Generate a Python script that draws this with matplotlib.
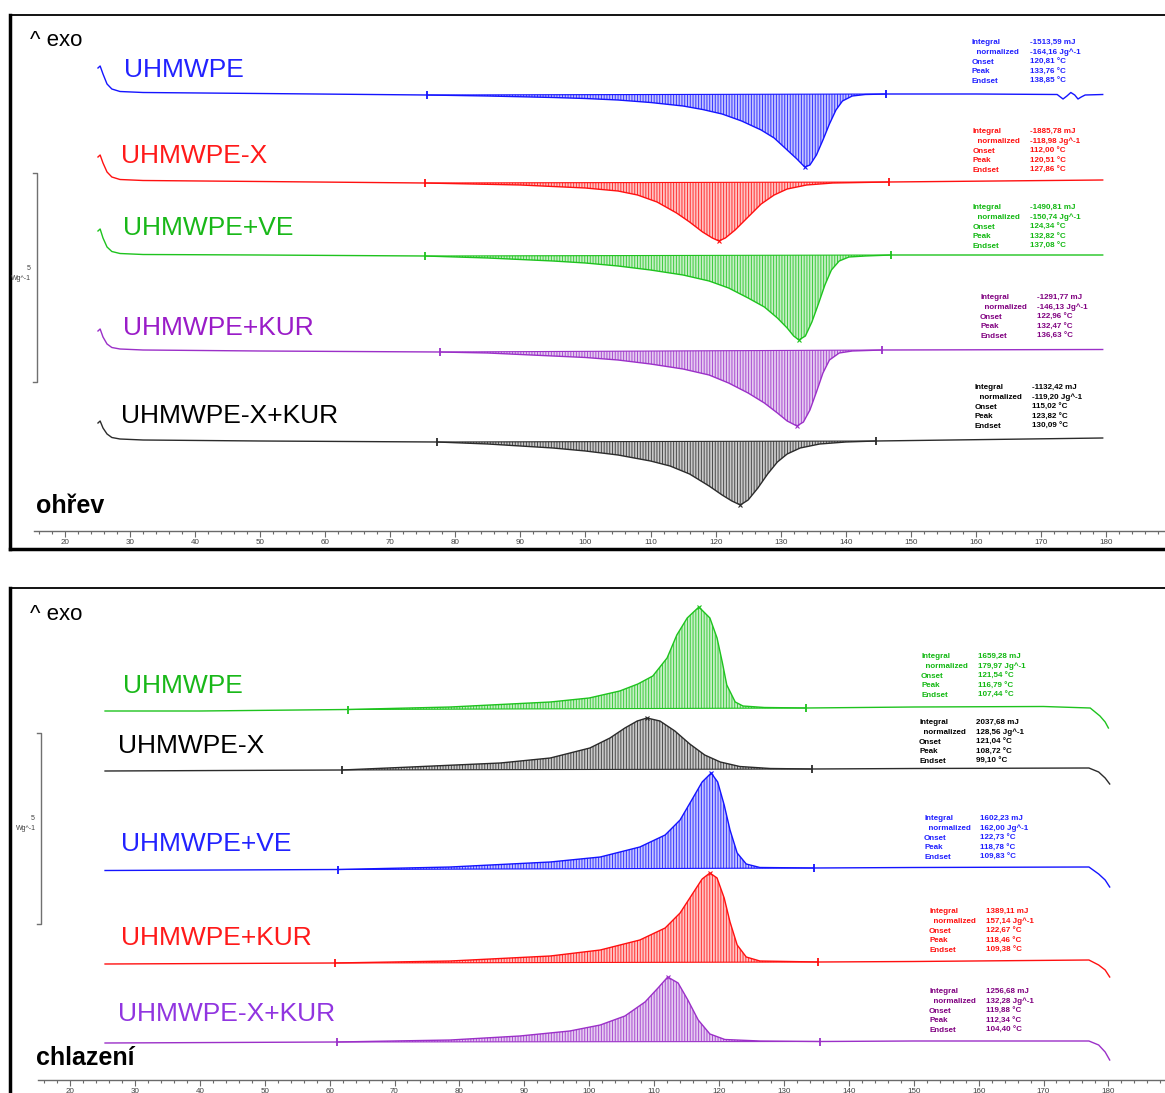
import matplotlib.pyplot as plt
import numpy as np

plt.rcParams['font.family'] = ['Liberation Sans', 'DejaVu Sans']
plt.rcParams['hatch.linewidth'] = 0.7

W, H = 1165, 1093

BLUE, RED, GREEN, PURPLE, BLACK = '#1414ff', '#ff1010', '#1ec31e', '#9b30c8', '#2b2b2b'

names = ['UHMWPE', 'UHMWPE-X', 'UHMWPE+VE', 'UHMWPE+KUR', 'UHMWPE-X+KUR']
ann_labels = ['Integral', '  normalized', 'Onset', 'Peak', 'Endset']

# ---- heating run (ohřev): temperature [°C] and trace position (downward units)
heat_pe_T = [25.07, 25.4, 25.84, 26.46, 27.2, 28.45, 32, 50, 75.6, 85, 95, 100, 105, 110, 115, 118,
             121, 124, 127, 129, 131, 132.5, 133.7, 134.5, 135.5, 136.5, 137.5, 138.5, 139.5, 141,
             143, 146.2, 160, 172.5, 173.0, 173.4, 174.0, 174.6, 175.2, 175.7, 176.2, 176.8, 179.5]
heat_pe_y = [68, 66, 74, 84, 89, 91.5, 92.5, 93.5, 95, 96, 97.5, 98.5, 100, 102.5, 106, 109.5,
             114, 121, 130, 138, 150, 159, 167, 165, 155, 140, 124, 110, 101, 96,
             94.5, 94, 94, 94.5, 97, 99, 96, 92.5, 95, 99, 97, 95, 94.5]

heat_x_T = [25.07, 25.4, 25.84, 26.46, 27.2, 28.45, 32, 50, 75.3, 90, 100, 105, 108, 111, 114, 116,
            118, 119.5, 120.5, 121.5, 123, 125, 127, 129, 131, 134, 138, 146.6, 179.5]
heat_x_y = [157, 155, 163, 172, 177, 179.5, 180.5, 181.5, 183, 185, 188, 191, 195, 202, 213, 222,
            232, 238, 241, 238, 230, 217, 204, 195, 189, 185, 183, 182, 180]

heat_ve_T = [25.07, 25.4, 25.84, 26.46, 27.2, 28.45, 32, 50, 75.3, 85, 95, 100, 105, 110, 115, 119,
             122, 125, 127.5, 129.5, 131, 132, 132.8, 133.8, 134.8, 135.8, 136.8, 137.8, 139, 140.5,
             143, 147, 179.5]
heat_ve_y = [231, 229, 238, 247, 251.5, 253.5, 254.5, 255, 256, 258, 261, 263, 266, 270, 275, 281,
             288, 298, 307, 318, 328, 336, 340, 336, 322, 304, 285, 270, 261, 257,
             256, 255, 255]

heat_kur_T = [25.07, 25.4, 25.84, 26.46, 27.2, 28.45, 32, 50, 77.6, 85, 95, 100, 105, 110, 115, 119,
              122, 125, 127.5, 129.5, 131, 132.5, 133.5, 134.5, 135.5, 136.5, 137.5, 139, 141, 145.6,
              179.5]
heat_kur_y = [331, 329, 337, 344, 347.5, 349, 350, 351, 352, 353, 356, 357.5, 360, 364, 369, 375,
              383, 393, 403, 413, 421, 426, 422, 410, 392, 373, 360, 353, 351, 350,
              349.5]

heat_xkur_T = [25.07, 25.4, 25.84, 26.46, 27.2, 28.45, 32, 50, 77.2, 85, 95, 100, 105, 110, 113, 116,
               119, 121, 122.5, 123.8, 125, 126.5, 128, 129.5, 131, 133, 136, 140, 144.7, 179.5]
heat_xkur_y = [423, 421, 428, 434, 437.5, 439, 440, 441, 442, 444, 448, 451, 455, 461, 466, 474,
               486, 495, 501, 505, 500, 488, 474, 462, 454, 448, 444, 442, 441, 438]

heat_limits = [(75.6, 146.2), (75.3, 146.6), (75.3, 147.0), (77.6, 145.6), (77.2, 144.7)]

heat_pe_res = ['-1513,59 mJ', '-164,16 Jg^-1', '120,81 °C', '133,76 °C', '138,85 °C']
heat_x_res = ['-1885,78 mJ', '-118,98 Jg^-1', '112,00 °C', '120,51 °C', '127,86 °C']
heat_ve_res = ['-1490,81 mJ', '-150,74 Jg^-1', '124,34 °C', '132,82 °C', '137,08 °C']
heat_kur_res = ['-1291,77 mJ', '-146,13 Jg^-1', '122,96 °C', '132,47 °C', '136,63 °C']
heat_xkur_res = ['-1132,42 mJ', '-119,20 Jg^-1', '115,02 °C', '123,82 °C', '130,09 °C']

# ---- cooling run (chlazení)
cool_pe_T = [25.4, 40, 62.8, 78.6, 94.0, 100, 104.7, 107.5, 109.8, 112.0, 113.5, 115.1, 116.9, 118.6,
             119.7, 120.5, 121.2, 122.5, 123.7, 127, 133.4, 150, 170, 177.2, 178.7, 179.5, 180.0]
cool_pe_y = [711, 711, 709.5, 707, 702, 698, 691, 684, 676, 658, 635, 618, 607, 618,
             638, 662, 685, 702, 706, 707.5, 708, 707, 706.5, 708, 716, 722, 728]

cool_x_T = [25.4, 61.9, 70.8, 86.3, 94.0, 100.1, 103.2, 105.5, 107.4, 108.9, 110.9, 113.2, 115.5,
            117.8, 120.2, 123.2, 127.9, 134.3, 150, 177, 178.5, 179.5, 180.2]
cool_x_y = [771, 770, 767.5, 763, 758, 748, 738, 728, 721, 718, 721, 731, 744,
            755, 762, 766.5, 768.5, 769, 768.5, 768, 772, 778, 784]

cool_ve_T = [25.4, 61.3, 78.6, 94.0, 101.7, 107.8, 111.7, 114.0, 115.8, 117.4, 118.8, 119.8, 120.8,
             121.7, 122.8, 124.2, 126.3, 134.6, 150, 177, 178.5, 179.5, 180.2]
cool_ve_y = [870.5, 869.5, 867, 862, 857, 847, 835, 820, 800, 782, 773, 782, 805,
             830, 853, 864, 867.5, 868, 867.5, 867, 874, 880, 887]

cool_kur_T = [25.4, 60.8, 78.6, 94.0, 101.7, 107.8, 111.7, 114.0, 115.8, 117.4, 118.6, 119.7, 120.8,
              121.7, 122.8, 124.2, 126.3, 135.3, 150, 177, 178.5, 179.5, 180.2]
cool_kur_y = [964, 963, 961, 956, 950, 940, 928, 913, 895, 879, 873, 878, 898,
              922, 945, 957, 961, 962, 961.5, 960, 965, 970, 977]

cool_xkur_T = [25.4, 61.1, 78.6, 89.3, 97.0, 101.7, 105.5, 108.6, 110.6, 112.1, 113.7, 115.2, 116.8,
               118.6, 120.9, 126.3, 135.6, 150, 177, 178.5, 179.5, 180.2]
cool_xkur_y = [1043, 1042, 1040, 1036, 1031, 1025, 1016, 1002, 988, 977, 983, 1000, 1020,
               1034, 1039.5, 1041, 1041.5, 1041, 1041, 1045, 1052, 1060]

cool_limits = [(62.8, 133.4), (61.9, 134.3), (61.3, 134.6), (60.8, 135.3), (61.1, 135.6)]

cool_pe_res = ['1659,28 mJ', '179,97 Jg^-1', '121,54 °C', '116,79 °C', '107,44 °C']
cool_x_res = ['2037,68 mJ', '128,56 Jg^-1', '121,04 °C', '108,72 °C', '99,10 °C']
cool_ve_res = ['1602,23 mJ', '162,00 Jg^-1', '122,73 °C', '118,78 °C', '109,83 °C']
cool_kur_res = ['1389,11 mJ', '157,14 Jg^-1', '122,67 °C', '118,46 °C', '109,38 °C']
cool_xkur_res = ['1256,68 mJ', '132,28 Jg^-1', '119,88 °C', '112,34 °C', '104,40 °C']


def px_box(x0, y0, x1, y1):
    return [x0 / W, 1 - y1 / H, (x1 - x0) / W, (y1 - y0) / H]


def draw_trace(ax, T, y, lim, color):
    T = np.asarray(T, float)
    y = np.asarray(y, float)
    ax.plot(T, y, color=color, lw=1.0, zorder=3)
    y0, y1 = np.interp(lim, T, y)
    m = (T >= lim[0]) & (T <= lim[1])
    base = np.interp(T[m], lim, [y0, y1])
    ax.fill_between(T[m], y[m], base, facecolor=color, alpha=0.25, lw=0, zorder=1)
    ax.fill_between(T[m], y[m], base, facecolor='none', edgecolor=color, hatch='||||||',
                    lw=0, alpha=0.8, zorder=2)
    ax.plot(lim, [y0, y1], color=color, lw=0.8, zorder=3)
    ax.plot(lim, [y0, y1], ls='none', marker='|', ms=6, mew=1.3, color=color, zorder=4)
    k = np.argmax(np.abs(y[m] - base))
    ax.plot(T[m][k], y[m][k], ls='none', marker='x', ms=3.5, mew=0.8, color=color, zorder=4)


def draw_results(ax, x_lab, x_val, y_top, values, color):
    for j in range(5):
        yy = y_top + j * 9.8 + 3
        ax.text(x_lab, yy, ann_labels[j], color=color, fontsize=5.8,
                fontweight='bold', va='baseline', ha='left')
        ax.text(x_val, yy, values[j], color=color, fontsize=5.8,
                fontweight='bold', va='baseline', ha='left')


def make_panel(fig, px20, scale, ytop, ybot, ruler_y, ruler_x0, bottom_spine):
    t_of = lambda px: 20 + (px - px20) / scale
    ax = fig.add_axes(px_box(10, ytop, W, ybot))
    ax.set_xlim(t_of(10), t_of(W))
    ax.set_ylim(ybot, ytop)
    ax.set_xticks([])
    ax.set_yticks([])
    ax.spines['right'].set_visible(False)
    ax.spines['left'].set_linewidth(2.5)
    ax.spines['top'].set_linewidth(1.3)
    ax.spines['bottom'].set_linewidth(2.5)
    ax.spines['bottom'].set_visible(bottom_spine)

    r = fig.add_axes(px_box(ruler_x0, ruler_y - 2, W, ruler_y))
    r.set_xlim(t_of(ruler_x0), t_of(W))
    r.patch.set_visible(False)
    for s in ['top', 'left', 'right']:
        r.spines[s].set_visible(False)
    r.spines['bottom'].set_color('#6a6a6a')
    r.spines['bottom'].set_linewidth(1.0)
    r.set_yticks([])
    r.set_xticks(np.arange(20, 190, 10))
    r.set_xticks(np.arange(16, 190, 2), minor=True)
    r.tick_params(axis='x', which='major', length=4, width=0.8, color='#6a6a6a',
                  labelsize=5.8, labelcolor='#404040', pad=2)
    r.tick_params(axis='x', which='minor', length=2.5, width=0.8, color='#6a6a6a')
    return ax, t_of


fig = plt.figure(figsize=(W / 100, H / 100), dpi=100)

# ---------------- heating panel ----------------
ax, t_of = make_panel(fig, 65, 6.506, 15, 549, 531, 34, True)
heat_T = [heat_pe_T, heat_x_T, heat_ve_T, heat_kur_T, heat_xkur_T]
heat_y = [heat_pe_y, heat_x_y, heat_ve_y, heat_kur_y, heat_xkur_y]
heat_res = [heat_pe_res, heat_x_res, heat_ve_res, heat_kur_res, heat_xkur_res]
heat_colors = [BLUE, RED, GREEN, PURPLE, BLACK]
heat_text_colors = ['#2222ff', '#ff1a1a', '#19b819', '#9a1cc8', '#000000']
heat_ann_colors = ['#2020ff', '#ff1010', '#12b812', '#800080', '#000000']
heat_name_pos = [(124, 70), (121, 156), (123, 228), (123, 328), (121, 416)]
heat_ann_pos = [(972, 1030, 41), (973, 1030, 130), (973, 1030, 206), (980, 1037, 296), (975, 1032, 386)]

for i in range(5):
    draw_trace(ax, heat_T[i], heat_y[i], heat_limits[i], heat_colors[i])
    nx, ny = heat_name_pos[i]
    ax.text(t_of(nx), ny, names[i], color=heat_text_colors[i], fontsize=19, va='center', ha='left')
    lx, vx, ay = heat_ann_pos[i]
    draw_results(ax, t_of(lx), t_of(vx), ay, heat_res[i], heat_ann_colors[i])

ax.text(t_of(30), 41, '^ exo', fontsize=16, va='center', ha='left')
ax.text(t_of(36), 506, 'ohřev', fontsize=18, fontweight='bold', va='center', ha='left')
ax.plot([t_of(33), t_of(37), t_of(37), t_of(33)], [173, 173, 382, 382], color='#707070', lw=1.0)
ax.text(t_of(31), 268, '5', fontsize=5, color='#404040', ha='right', va='center')
ax.text(t_of(31), 278, 'Wg^-1', fontsize=5, color='#404040', ha='right', va='center', clip_on=True)

# ---------------- cooling panel ----------------
ax, t_of = make_panel(fig, 70, 6.49, 588, H, 1080, 38, False)
cool_T = [cool_pe_T, cool_x_T, cool_ve_T, cool_kur_T, cool_xkur_T]
cool_y = [cool_pe_y, cool_x_y, cool_ve_y, cool_kur_y, cool_xkur_y]
cool_res = [cool_pe_res, cool_x_res, cool_ve_res, cool_kur_res, cool_xkur_res]
cool_colors = [GREEN, BLACK, BLUE, RED, PURPLE]
cool_text_colors = ['#19b819', '#000000', '#2222ff', '#ff1a1a', '#9135e0']
cool_ann_colors = ['#12b812', '#000000', '#2020ff', '#ff1010', '#800080']
cool_name_pos = [(123, 686), (118, 746), (121, 844), (121, 938), (118, 1014)]
cool_ann_pos = [(921, 978, 655), (919, 976, 721), (924, 980, 817), (929, 986, 910), (929, 986, 990)]

for i in range(5):
    draw_trace(ax, cool_T[i], cool_y[i], cool_limits[i], cool_colors[i])
    nx, ny = cool_name_pos[i]
    ax.text(t_of(nx), ny, names[i], color=cool_text_colors[i], fontsize=19, va='center', ha='left')
    lx, vx, ay = cool_ann_pos[i]
    draw_results(ax, t_of(lx), t_of(vx), ay, cool_res[i], cool_ann_colors[i])

ax.text(t_of(30), 615, '^ exo', fontsize=16, va='center', ha='left')
ax.text(t_of(36), 1058, 'chlazení', fontsize=18, fontweight='bold', va='center', ha='left')
ax.plot([t_of(37), t_of(41), t_of(41), t_of(37)], [733, 733, 924, 924], color='#707070', lw=1.0)
ax.text(t_of(35), 818, '5', fontsize=5, color='#404040', ha='right', va='center')
ax.text(t_of(36), 828, 'Wg^-1', fontsize=5, color='#404040', ha='right', va='center', clip_on=True)

fig.savefig('out.png', dpi=100)
